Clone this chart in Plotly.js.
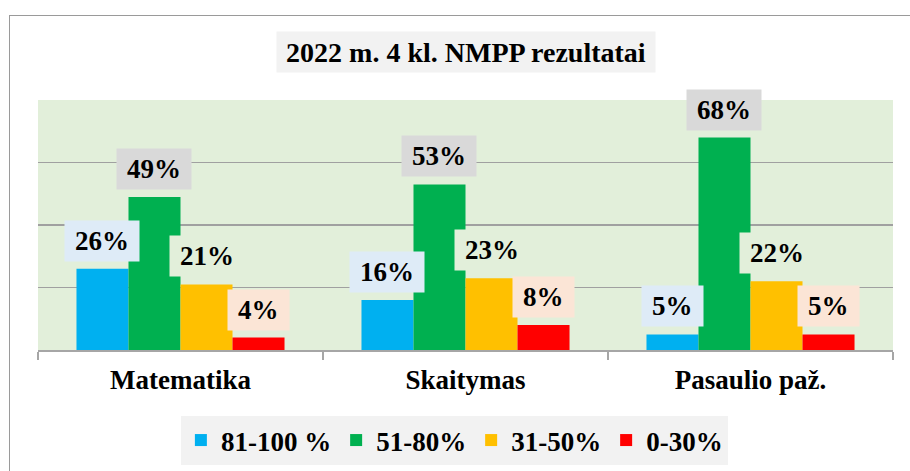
<!DOCTYPE html>
<html>
<head>
<meta charset="utf-8">
<script src="https://cdn.plot.ly/plotly-3.0.1.min.js"></script>
<style>
  html, body { margin: 0; padding: 0; background: #ffffff; }
  #wrap { position: relative; width: 910px; height: 471px; overflow: hidden; }
  #chart { width: 910px; height: 471px; }
  #frame { position: absolute; left: 9px; top: 15px; width: 1000px; height: 1000px;
           border-top: 1px solid #9a9a9a; border-left: 1px solid #9a9a9a; pointer-events: none; }
</style>
</head>
<body>
<div id="wrap">
  <div id="chart"></div>
  <div id="frame"></div>
</div>
<script>
// ---- data ----
const categories = ['Matematika', 'Skaitymas', 'Pasaulio paž.'];
const seriesNames = ['81-100 %', '51-80%', '31-50%', '0-30%'];
const s81_100 = [26, 16, 5];
const s51_80  = [49, 53, 68];
const s31_50  = [21, 23, 22];
const s0_30   = [4, 8, 5];
const titleText = '2022 m. 4 kl. NMPP rezultatai';

// ---- style ----
const seriesValues = [s81_100, s51_80, s31_50, s0_30];
const barColors   = ['#00b0f0', '#00b050', '#ffc000', '#ff0000'];
const labelBg     = ['#deebf7', '#d9d9d9', '#e2efda', '#fbe5d6'];
const FONT = 'Liberation Serif, Times New Roman, serif';
const FS = 27;

const W = 910, H = 471;
const margin = { l: 38, r: 17, t: 100, b: 121, autoexpand: false };
const bargap = 0.27;
const plotW = W - margin.l - margin.r;
const catW = plotW / categories.length;
const barW = catW * (1 - bargap) / seriesNames.length;

const traces = seriesNames.map((name, j) => ({
  type: 'bar',
  name: name,
  x: categories,
  y: seriesValues[j],
  marker: { color: barColors[j], line: { width: 0 } },
  hoverinfo: 'skip'
}));

const annotations = [];
seriesValues.forEach((vals, j) => {
  vals.forEach((v, i) => {
    const txt = v + '%';
    const digits = String(v).length;
    annotations.push({
      x: categories[i], y: v, xref: 'x', yref: 'y',
      text: '<b>' + txt + '</b>',
      showarrow: false,
      xanchor: 'center', yanchor: 'bottom',
      xshift: (j - (seriesNames.length - 1) / 2) * barW,
      yshift: 7,
      bgcolor: labelBg[j],
      borderpad: 1,
      width: 18 + FS * (0.5 * digits + 1),
      height: 38,
      font: { family: FONT, size: FS, color: '#000000' }
    });
  });
});

// title box
annotations.push({
  xref: 'paper', yref: 'paper', x: 0.5, y: 1.192,
  xanchor: 'center', yanchor: 'middle',
  text: '<b>' + titleText + '</b>', showarrow: false,
  bgcolor: '#f2f2f2', borderpad: 3,
  width: 372, height: 34,
  font: { family: FONT, size: 28, color: '#000000' }
});

const layout = {
  width: W, height: H,
  margin: margin,
  paper_bgcolor: '#ffffff',
  plot_bgcolor: '#e2efda',
  barmode: 'group',
  bargap: bargap,
  bargroupgap: 0,
  showlegend: true,
  legend: {
    orientation: 'h',
    x: 0.487, xanchor: 'center',
    y: -0.264, yanchor: 'top',
    bgcolor: '#f2f2f2',
    font: { family: FONT, size: FS, color: '#000000', weight: 'bold' },
    itemclick: false, itemdoubleclick: false,
    traceorder: 'normal'
  },
  xaxis: {
    type: 'category',
    showgrid: false,
    showline: true, linecolor: '#a6a6a6', linewidth: 1.5,
    ticks: 'outside', tickson: 'boundaries', ticklen: 8, tickcolor: '#a6a6a6', tickwidth: 1.5,
    ticklabelstandoff: 5,
    tickfont: { family: FONT, size: FS, color: '#000000', weight: 'bold' },
    fixedrange: true
  },
  yaxis: {
    range: [0, 80],
    dtick: 20,
    showgrid: true, gridcolor: '#a0a0a0', gridwidth: 1.5,
    showticklabels: false,
    zeroline: false,
    showline: false,
    fixedrange: true
  },
  annotations: annotations
};

Plotly.newPlot('chart', traces, layout, { staticPlot: true, displayModeBar: false });
</script>
</body>
</html>
